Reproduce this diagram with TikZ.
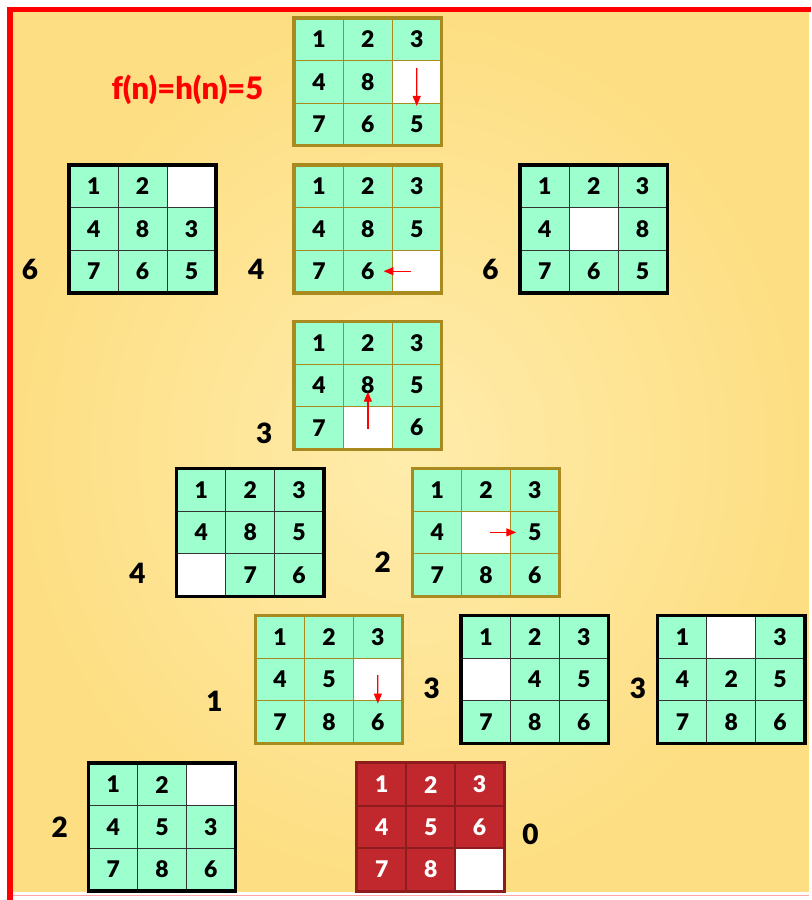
\documentclass[tikz,border=0pt]{standalone}
\usepackage{fontspec}
\setmainfont{Lato}[BoldFont={* Black}]
\usetikzlibrary{matrix, calc, arrows.meta}
\definecolor{tilegreen}{RGB}{157,255,205}
\definecolor{goldedge}{RGB}{168,138,30}
\definecolor{goalred}{RGB}{193,40,45}
\definecolor{goaledge}{RGB}{140,28,30}
\definecolor{paper}{RGB}{253,222,130}
\definecolor{paperlight}{RGB}{255,236,172}
\definecolor{frame}{RGB}{255,0,0}

\begin{document}
\begin{tikzpicture}[x=1pt, y=-1pt]
% Define styles
\tikzstyle{tile} = [rectangle, anchor=center, minimum width=49pt, minimum height=42.5pt, inner sep=0pt, outer sep=0pt, fill=tilegreen, text=black, font=\fontsize{23}{23}\selectfont\bfseries]
\tikzstyle{blank} = [fill=white]
\tikzstyle{pathboard} = [matrix of nodes, nodes in empty cells, inner sep=0pt, outer sep=0pt, column sep=-0.8pt, row sep=-0.8pt, nodes={tile, draw=goldedge, line width=0.8pt}]
\tikzstyle{sideboard} = [matrix of nodes, nodes in empty cells, inner sep=0pt, outer sep=0pt, column sep=-0.8pt, row sep=-0.8pt, nodes={tile, draw=black!80, line width=0.8pt}]
\tikzstyle{goalboard} = [matrix of nodes, nodes in empty cells, inner sep=0pt, outer sep=0pt, column sep=-2pt, row sep=-2pt, nodes={tile, fill=goalred, text=white, draw=goaledge, line width=2pt}]
\tikzstyle{goldframe} = [draw=goldedge, line width=3.5pt]
\tikzstyle{blackframe} = [draw=black, line width=3.5pt]
\tikzstyle{redframe} = [draw=goaledge, line width=3pt]
\tikzstyle{score} = [font=\fontsize{28}{28}\selectfont\bfseries]
\tikzstyle{move} = [draw=red, line width=1.3pt, -{Triangle[length=10pt,width=8pt]}]

% Background and slide border
\fill[white] (0,0) rectangle (811,900);
\shade[inner color=paperlight, outer color=paper] (10,10) rectangle (811,894);
\draw[frame!35, line width=1.5pt] (10,898) -- (811,898);
\draw[frame, line width=5.5pt, line cap=rect] (10,900) -- (10,9.5) -- (811,9.5);

% Start state
\matrix (s0) at (369,82) [pathboard] {1 & 2 & 3 \\ 4 & 8 & |[blank]| \\ 7 & 6 & 5 \\};
\node (fn) at (188,90) [text=red, font=\fontsize{31}{31}\selectfont\bfseries] {f(n)=h(n)=5};

% Second level
\matrix (s1a) at (143,229.5) [sideboard] {1 & 2 & |[blank]| \\ 4 & 8 & 3 \\ 7 & 6 & 5 \\};
\matrix (s1b) at (369,229.5) [pathboard] {1 & 2 & 3 \\ 4 & 8 & 5 \\ 7 & 6 & |[blank]| \\};
\matrix (s1c) at (595.5,229.5) [sideboard] {1 & 2 & 3 \\ 4 & |[blank]| & 8 \\ 7 & 6 & 5 \\};

% Third level
\matrix (s2) at (369,386.5) [pathboard] {1 & 2 & 3 \\ 4 & 8 & 5 \\ 7 & |[blank]| & 6 \\};

% Fourth level
\matrix (s3a) at (251,534) [sideboard] {1 & 2 & 3 \\ 4 & 8 & 5 \\ |[blank]| & 7 & 6 \\};
\matrix (s3b) at (487.5,534) [pathboard] {1 & 2 & 3 \\ 4 & |[blank]| & 5 \\ 7 & 8 & 6 \\};

% Fifth level
\matrix (s4a) at (330,681.5) [pathboard] {1 & 2 & 3 \\ 4 & 5 & |[blank]| \\ 7 & 8 & 6 \\};
\matrix (s4b) at (536.5,681.5) [sideboard] {1 & 2 & 3 \\ |[blank]| & 4 & 5 \\ 7 & 8 & 6 \\};
\matrix (s4c) at (733.5,681.5) [sideboard] {1 & |[blank]| & 3 \\ 4 & 2 & 5 \\ 7 & 8 & 6 \\};

% Last level
\matrix (s5a) at (162.5,829.5) [sideboard] {1 & 2 & |[blank]| \\ 4 & 5 & 3 \\ 7 & 8 & 6 \\};
\matrix (goal) at (432,829.5) [goalboard] {1 & 2 & 3 \\ 4 & 5 & 6 \\ 7 & 8 & |[blank, draw=goaledge]| \\};

% Board frames
\foreach \b in {s0, s1b, s2, s3b, s4a}
  \draw[goldframe] (\b.north west) rectangle (\b.south east);
\foreach \b in {s1a, s1c, s3a, s4b, s4c, s5a}
  \draw[blackframe] (\b.north west) rectangle (\b.south east);
\draw[redframe] (goal.north west) rectangle (goal.south east);

% Heuristic values
\node (h1a) [score] at (30,270) {6};
\node (h1b) [score] at (257,270) {4};
\node (h1c) [score] at (492,270) {6};
\node (h2) [score] at (265,435) {3};
\node (h3a) [score] at (138,575) {4};
\node (h3b) [score] at (384,564) {2};
\node (h4a) [score] at (215,703) {1};
\node (h4b) [score] at (433,690) {3};
\node (h4c) [score] at (640,690) {3};
\node (h5a) [score] at (60,830) {2};
\node (hgoal) [score] at (532,837) {0};

% Tile moves
\draw[move] ($(s0-2-3)!-0.33!(s0-3-3)$) -- ($(s0-2-3)!0.57!(s0-3-3)$);
\draw[move] ($(s1b-3-3)!0.11!(s1b-3-2)$) -- ($(s1b-3-3)!0.68!(s1b-3-2)$);
\draw[move] ($(s2-3-2)!-0.03!(s2-2-2)$) -- ($(s2-3-2)!0.85!(s2-2-2)$);
\draw[move] ($(s3b-2-2)!0.09!(s3b-2-3)$) -- ($(s3b-2-2)!0.62!(s3b-2-3)$);
\draw[move] ($(s4a-2-3)!-0.1!(s4a-3-3)$) -- ($(s4a-2-3)!0.57!(s4a-3-3)$);

\end{tikzpicture}
\end{document}
